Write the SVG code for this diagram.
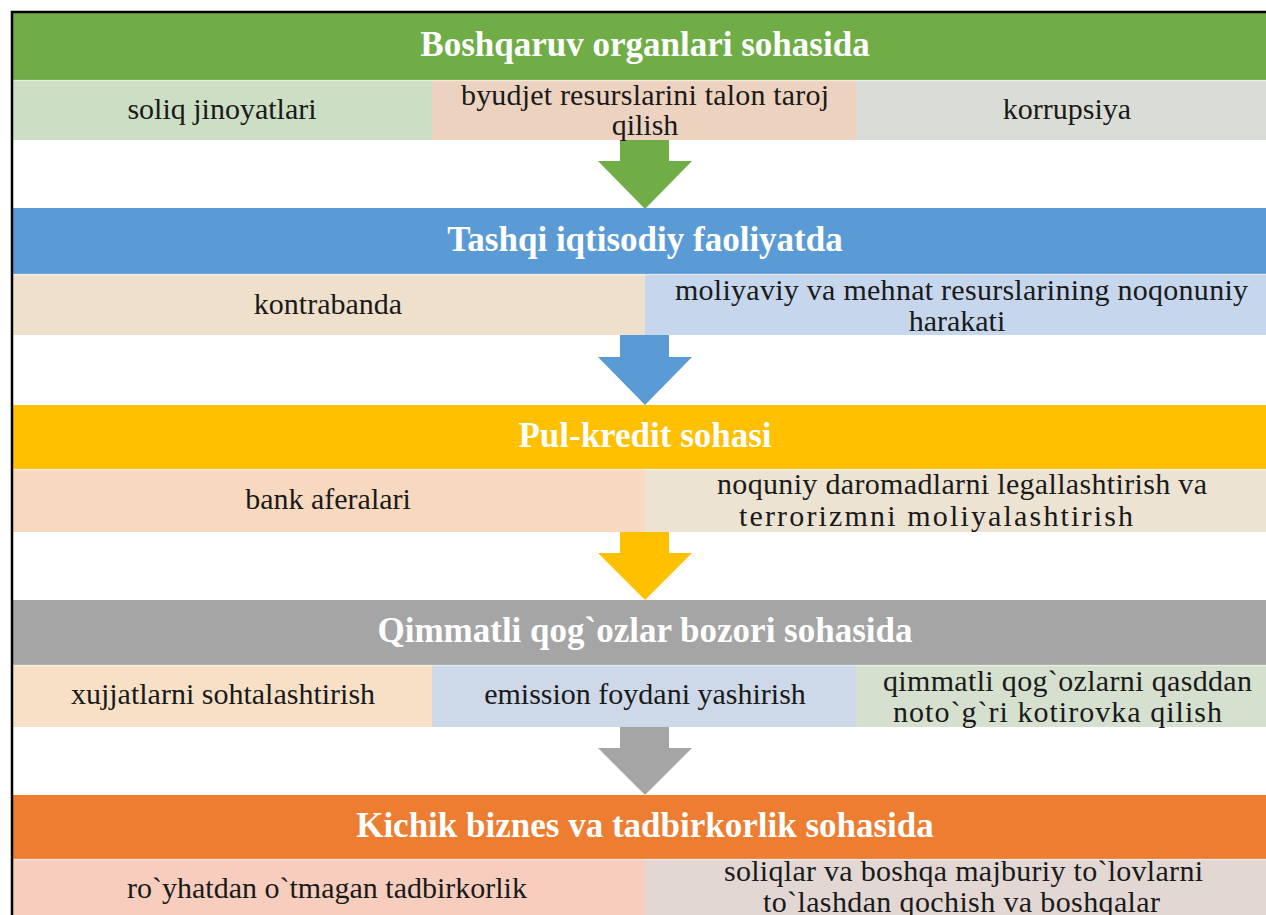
<svg xmlns="http://www.w3.org/2000/svg" width="1266" height="915" viewBox="0 0 1266 915">
<style>
.h{font-family:"Liberation Serif","Times New Roman",serif;font-weight:bold;font-size:35px;fill:#fff;text-anchor:middle}
.t{font-family:"Liberation Serif","Times New Roman",serif;font-size:30px;fill:#1a1a1a;text-anchor:middle}
.j{font-family:"Liberation Serif","Times New Roman",serif;font-size:30px;fill:#1a1a1a}
.sep{stroke:#ffffff;stroke-opacity:0.45;stroke-width:1.5}
</style>
<rect x="0" y="0" width="1266" height="915" fill="#fff"/>
<g id="connectors">
<polygon points="620,140 669,140 669,161 692,161 645,209 598,161 620,161" fill="#70AD47"/>
<polygon points="620,335 669,335 669,357 692,357 645,405 598,357 620,357" fill="#5B9BD5"/>
<polygon points="620,532 669,532 669,553 692,553 645,600 598,553 620,553" fill="#FFC000"/>
<polygon points="620,727 669,727 669,748 692,748 645,795 598,748 620,748" fill="#A5A5A5"/>
</g>
<g id="node1">
<rect x="13" y="13" width="1253" height="67" fill="#70AD47"/>
<text class="h" x="645" y="56">Boshqaruv organlari sohasida</text>
<rect x="13" y="80" width="419" height="60" fill="#CCDFC4"/>
<rect x="432" y="80" width="424" height="60" fill="#EDD2C0"/>
<rect x="856" y="80" width="410" height="60" fill="#D9DDD5"/>
<line class="sep" x1="13" y1="80.5" x2="1266" y2="80.5"/>
<text class="t" x="222" y="119">soliq jinoyatlari</text>
<text class="j" x="461" y="105" textLength="368" lengthAdjust="spacing">byudjet resurslarini talon taroj</text>
<text class="t" x="645" y="135">qilish</text>
<text class="t" x="1067" y="119">korrupsiya</text>
</g>
<g id="node2">
<rect x="13" y="208" width="1253" height="66" fill="#5B9BD5"/>
<text class="h" x="645" y="251">Tashqi iqtisodiy faoliyatda</text>
<rect x="13" y="274" width="632" height="61" fill="#EFE0CC"/>
<rect x="645" y="274" width="621" height="61" fill="#C6D6EC"/>
<line class="sep" x1="13" y1="274.5" x2="1266" y2="274.5"/>
<text class="t" x="328" y="314">kontrabanda</text>
<text class="j" x="675" y="300" textLength="573" lengthAdjust="spacing">moliyaviy va mehnat resurslarining noqonuniy</text>
<text class="t" x="957" y="331">harakati</text>
</g>
<g id="node3">
<rect x="13" y="405" width="1253" height="64" fill="#FFC000"/>
<text class="h" x="645" y="447">Pul-kredit sohasi</text>
<rect x="13" y="469" width="632" height="63" fill="#F8D9BF"/>
<rect x="645" y="469" width="621" height="63" fill="#EDE3D2"/>
<line class="sep" x1="13" y1="469.5" x2="1266" y2="469.5"/>
<text class="t" x="328" y="509">bank aferalari</text>
<text class="j" x="717" y="494" textLength="490" lengthAdjust="spacing">noquniy daromadlarni legallashtirish va</text>
<text class="j" x="739" y="526" textLength="394" lengthAdjust="spacing">terrorizmni moliyalashtirish</text>
</g>
<g id="node4">
<rect x="13" y="600" width="1253" height="65" fill="#A5A5A5"/>
<text class="h" x="645" y="642">Qimmatli qog`ozlar bozori sohasida</text>
<rect x="13" y="665" width="419" height="62" fill="#F8E0C6"/>
<rect x="432" y="665" width="424" height="62" fill="#CDD8E8"/>
<rect x="856" y="665" width="410" height="62" fill="#D5E0CE"/>
<line class="sep" x1="13" y1="665.5" x2="1266" y2="665.5"/>
<text class="t" x="223" y="704">xujjatlarni sohtalashtirish</text>
<text class="t" x="645" y="704">emission foydani yashirish</text>
<text class="j" x="883" y="691" textLength="369" lengthAdjust="spacing">qimmatli qog`ozlarni qasddan</text>
<text class="j" x="893" y="722" textLength="329" lengthAdjust="spacing">noto`g`ri kotirovka qilish</text>
</g>
<g id="node5">
<rect x="13" y="795" width="1253" height="64" fill="#ED7D31"/>
<text class="h" x="645" y="837">Kichik biznes va tadbirkorlik sohasida</text>
<rect x="13" y="859" width="632" height="56" fill="#F7CDBE"/>
<rect x="645" y="859" width="621" height="56" fill="#E2D7D2"/>
<line class="sep" x1="13" y1="859.5" x2="1266" y2="859.5"/>
<text class="t" x="327" y="898">ro`yhatdan o`tmagan tadbirkorlik</text>
<text class="j" x="724" y="881" textLength="479" lengthAdjust="spacing">soliqlar va boshqa majburiy to`lovlarni</text>
<text class="j" x="763" y="912" textLength="397" lengthAdjust="spacing">to`lashdan qochish va boshqalar</text>
</g>
<g id="frame">
<path d="M12,920 V12 H1270" fill="none" stroke="#000" stroke-width="2.5"/>
</g>
</svg>
